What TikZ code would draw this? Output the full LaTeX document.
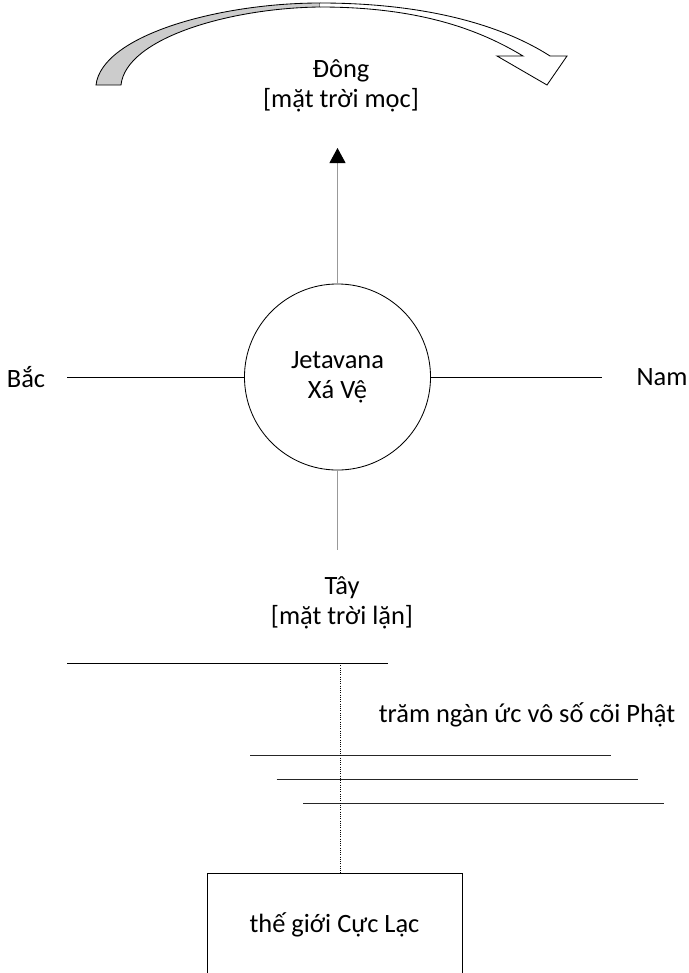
\documentclass[tikz,border=0pt]{standalone}
\usepackage{fontspec}
\setmainfont{Carlito}
\usetikzlibrary{arrows.meta}

\begin{document}
\begin{tikzpicture}[x=0.025cm, y=-0.025cm,
        lbl/.style={inner sep=0pt, align=center, font=\fontsize{18.8}{21.6}\selectfont},
        blackline/.style={line width=.7pt},
        grayline/.style={line width=.7pt, gray!80}]
        \useasboundingbox (0,0) rectangle (689,973);
        \clip (0,0) rectangle (689,973);
        % curved arrow on top
        \filldraw[fill=gray!40, line width=.6pt] (96,85) .. controls (102,35) and (220,3) .. (320,3) -- (320,7) .. controls (230,8) and (126,38) .. (121,85) -- cycle;
        \filldraw[fill=white, line width=.6pt] (320,3) .. controls (430,3) and (505,27) .. (550,56) -- (567,56) -- (547,85) -- (497,56) -- (523,56) .. controls (480,30) and (420,7) .. (320,7);
        \node[lbl] (dong) at (341,86) {Đông\\{[mặt trời mọc]}};
        \node[lbl] (tay) at (342,603) {Tây\\{[mặt trời lặn]}};
        \node[lbl] (bac) at (26,377) {Bắc};
        \node[lbl] (nam) at (662,377) {Nam};
        \node[lbl, draw, circle, minimum size=4.65cm, line width=.6pt] (jeta) at (337.5,377) {Jetavana\\Xá Vệ};
        \coordinate (up) at (337.5,148);
        \coordinate (down) at (337.5,550);
        \coordinate (west) at (67,377);
        \coordinate (east) at (602,377);
        \draw[grayline, -{Triangle[length=3.75mm, width=4mm, black]}] (jeta.north) -- (up);
        \draw[grayline] (jeta.south) -- (down);
        \draw[blackline] (west) -- (jeta.west);
        \draw[blackline] (jeta.east) -- (east);
        % lower part
        \coordinate (lineL) at (67,663);
        \coordinate (lineR) at (388,663);
        \coordinate (split) at (340,663);
        \draw[blackline] (lineL) -- (lineR);
        \node[lbl] (coi) at (527,715) {trăm ngàn ức vô số cõi Phật};
        \foreach \i in {0,1,2}
        \draw[blackline, black!85] (250+26.5*\i, 755+24*\i) -- ++(361,0);
        \node[lbl, draw, rectangle, minimum width=6.375cm, minimum height=2.6cm, line width=.6pt] (cuclac) at (334.5,925) {thế giới Cực Lạc};
        \draw[densely dotted, line width=.6pt] (split) -- (split |- cuclac.north);
\end{tikzpicture}
\end{document}
